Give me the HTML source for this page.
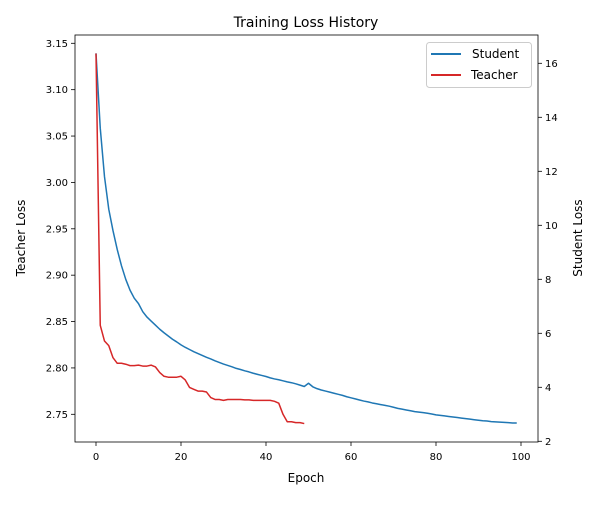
<!DOCTYPE html>
<html><head><meta charset="utf-8"><style>
body{margin:0;background:#fff}
svg text{font-family:"DejaVu Sans","Liberation Sans",sans-serif;fill:#000}
</style></head><body>
<svg id="chart" width="600" height="500" xmlns="http://www.w3.org/2000/svg">
<rect width="600" height="500" fill="#fff"/>
<text x="306" y="27" font-size="14" text-anchor="middle">Training Loss History</text>
<g id="plot"></g>
<text x="306" y="482" font-size="12" text-anchor="middle">Epoch</text>
<text transform="translate(25,238) rotate(-90)" font-size="12" text-anchor="middle">Teacher Loss</text>
<text transform="translate(582,238) rotate(-90)" font-size="12" text-anchor="middle">Student Loss</text>
<g>
<rect x="426.5" y="42.5" width="105" height="45" rx="3" fill="#fff" fill-opacity="0.8" stroke="#ccc"/>
<line x1="431" y1="54" x2="461" y2="54" stroke="#1f77b4" stroke-width="2"/>
<text x="472" y="58" font-size="12">Student</text>
<line x1="431" y1="75" x2="461" y2="75" stroke="#d62728" stroke-width="2"/>
<text x="471" y="79" font-size="12">Teacher</text>
</g>
</svg>
<script>
const studentLoss = [16.37,13.6,11.8,10.6,9.8,9.1,8.5,8.0,7.6,7.3,7.1,6.8,6.6,6.45,6.3,6.15,6.02,5.9,5.78,5.68,5.57,5.48,5.40,5.32,5.25,5.18,5.11,5.05,4.98,4.92,4.86,4.81,4.76,4.70,4.66,4.61,4.57,4.52,4.48,4.44,4.40,4.35,4.31,4.28,4.24,4.20,4.17,4.13,4.08,4.03,4.15,4.02,3.95,3.90,3.86,3.82,3.78,3.74,3.70,3.65,3.61,3.57,3.53,3.49,3.46,3.42,3.39,3.36,3.33,3.30,3.26,3.22,3.19,3.16,3.13,3.10,3.08,3.06,3.04,3.01,2.98,2.96,2.94,2.92,2.90,2.88,2.86,2.84,2.82,2.80,2.78,2.76,2.75,2.73,2.72,2.71,2.70,2.69,2.68,2.68];
const teacherLoss = [3.139,2.846,2.829,2.824,2.811,2.805,2.805,2.804,2.8025,2.8025,2.803,2.802,2.802,2.803,2.801,2.795,2.791,2.790,2.790,2.790,2.791,2.787,2.779,2.777,2.775,2.775,2.774,2.768,2.766,2.766,2.765,2.766,2.766,2.766,2.766,2.7655,2.7655,2.765,2.765,2.765,2.765,2.765,2.764,2.762,2.750,2.742,2.742,2.741,2.741,2.740];
const xTicks = [0,20,40,60,80,100];
const leftTicks = [2.75,2.80,2.85,2.90,2.95,3.00,3.05,3.10,3.15];
const rightTicks = [2,4,6,8,10,12,14,16];

const L=75,R=538,T=35,B=442;
const xs = e => 96 + e*4.25;
const yL = v => 414.3 - (v-2.75)*927.5;
const yR = v => 387.3 - (v-4)*27;
const NS='http://www.w3.org/2000/svg';
const g=document.getElementById('plot');
function mk(tag,attrs){const el=document.createElementNS(NS,tag);for(const k in attrs)el.setAttribute(k,attrs[k]);g.appendChild(el);return el;}

xTicks.forEach(t=>{
  const l=mk('line',{x1:xs(t),x2:xs(t),y1:B,y2:B+4,stroke:'#000','stroke-width':0.8});
  
  
  const tx=mk('text',{x:xs(t),y:B+18,'font-size':10,'text-anchor':'middle'});
  tx.textContent=t;
  
  
});
leftTicks.forEach(t=>{
  const l=mk('line',{x1:L-4,x2:L,y1:yL(t),y2:yL(t),stroke:'#000','stroke-width':0.8});
  
  
  const tx=mk('text',{x:L-7,y:yL(t)+3.5,'font-size':10,'text-anchor':'end'});
  tx.textContent=t.toFixed(2);
  
  
});
rightTicks.forEach(t=>{
  const l=mk('line',{x1:R,x2:R+4,y1:yR(t),y2:yR(t),stroke:'#000','stroke-width':0.8});
  
  
  const tx=mk('text',{x:R+7,y:yR(t)+3.5,'font-size':10,'text-anchor':'start'});
  tx.textContent=t;
  
  
});
const sp=mk('polyline',{points:studentLoss.map((v,i)=>xs(i)+','+yR(v)).join(' '),fill:'none',stroke:'#1f77b4','stroke-width':1.5,'stroke-linejoin':'round'});


const tp=mk('polyline',{points:teacherLoss.map((v,i)=>xs(i)+','+yL(v)).join(' '),fill:'none',stroke:'#d62728','stroke-width':1.5,'stroke-linejoin':'round'});


const fr=mk('rect',{x:L,y:T,width:R-L,height:B-T,fill:'none',stroke:'#000','stroke-width':0.8});


</script>
</body></html>
